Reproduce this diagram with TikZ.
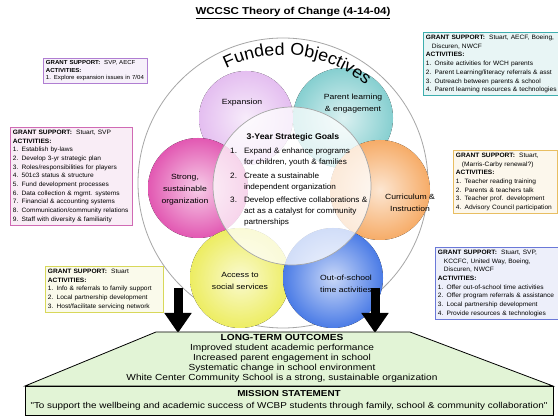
\documentclass[tikz,border=0pt]{standalone}
\usepackage{fontspec}
\setmainfont[FakeStretch=1.05]{Liberation Sans}
\newfontfamily\widefont[FakeStretch=1.15]{Liberation Sans}
\usetikzlibrary{arrows.meta,decorations.text}
\definecolor{expcol}{HTML}{E4BEF0}
\definecolor{parcol}{HTML}{86CFD0}
\definecolor{strcol}{HTML}{E258B2}
\definecolor{curcol}{HTML}{F6AC68}
\definecolor{acccol}{HTML}{EDED62}
\definecolor{outcol}{HTML}{4A7BE6}
\definecolor{expline}{HTML}{B07ED2}
\definecolor{strline}{HTML}{D06AB4}
\definecolor{accline}{HTML}{D8D85A}
\definecolor{parline}{HTML}{3EAEAE}
\definecolor{curline}{HTML}{E8BE62}
\definecolor{outline}{HTML}{6A78D8}
\definecolor{goodgreen}{HTML}{E2F4D6}
\newcommand{\boxfont}{\fontsize{6.3}{8.7}\selectfont}
\newcommand{\gs}{\textbf{GRANT SUPPORT:}\ \ }
\newcommand{\act}{\textbf{ACTIVITIES:}}

\begin{document}
\begin{tikzpicture}[x=1pt,y=-1pt,
    grantbox/.style={draw=#1, line width=0.9pt, fill=#1!12, anchor=north west,
      align=left, inner sep=2.5pt, font=\boxfont},
    blob/.style={shading=radial, inner color=#1!30, outer color=#1},
    lbl/.style={align=center, font=\widefont\fontsize{7.5}{12}\selectfont},
    bigarrow/.style={line width=9pt, -{Triangle[width=26pt,length=20pt]}}]
  \useasboundingbox (0,0) rectangle (558,417);

  % title
  \node (title) at (293,13) {\widefont\fontsize{10}{12}\selectfont\bfseries\underline{WCCSC Theory of Change (4-14-04)}};

  % circles
  \draw[gray!70, line width=0.8pt, fill=white] (283,183) circle[radius=145];
  \fill[blob=expcol] (246,118) circle[radius=47];
  \fill[blob=parcol] (343,118) circle[radius=50];
  \fill[blob=strcol] (198,188) circle[radius=50];
  \fill[blob=curcol] (380,190) circle[radius=50];
  \fill[blob=acccol] (240,278) circle[radius=50];
  \fill[blob=outcol] (333,278) circle[radius=50];
  \draw[gray!70, line width=0.7pt, fill=white, fill opacity=0.75] (292,186) circle[radius=79];

  \path[decorate, decoration={text along path, text align=center,
      text={|\fontsize{17}{18}\selectfont|Funded Objectives}}]
    (283,183) ++(210:128) arc[start angle=210, end angle=344, radius=128];

  \node[lbl] (expl) at (242,103) {Expansion};
  \node[lbl] (parl) at (353,104) {Parent learning\\\& engagement};
  \node[lbl] (strl) at (185,190) {Strong,\\sustainable\\organization};
  \node[lbl] (curl) at (410,203) {Curriculum \&\\Instruction};
  \node[lbl] (accl) at (240,281) {Access to\\social services};
  \node[lbl] (outl) at (346,284) {Out-of-school\\time activities};

  % strategic goals
  \node (goals) at (293,137) {\fontsize{8.3}{10}\selectfont\bfseries 3-Year Strategic Goals};
  \node[anchor=north west, inner sep=0pt, font=\fontsize{7.8}{11}\selectfont] (goallist) at (230,146)
    {\begin{tabular}{@{}l@{\hspace{7pt}}l@{}}
      1. & Expand \& enhance programs\\
         & for children, youth \& families\\[2.5pt]
      2. & Create a sustainable\\
         & independent organization\\[2.5pt]
      3. & Develop effective collaborations \&\\
         & act as a catalyst for community\\
         & partnerships
    \end{tabular}};

  % grant boxes
  \node[grantbox=expline, font=\fontsize{5.8}{7.2}\selectfont, text width=99pt] (expbox) at (43,58)
    {\gs SVP, AECF\\ \act\\ 1. Explore expansion issues in 7/04};
  \node[grantbox=strline, text width=117pt] (strbox) at (10,127)
    {\gs Stuart, SVP\\ \act\\ 1. Establish by-laws\\ 2. Develop 3-yr strategic plan\\
     3. Roles/responsibilities for players\\ 4. 501c3 status \& structure\\
     5. Fund development processes\\ 6. Data collection \& mgmt. systems\\
     7. Financial \& accounting systems\\ 8. Communication/community relations\\
     9. Staff with diversity \& familiarity};
  \node[grantbox=accline, text width=113pt] (accbox) at (45,266)
    {\gs Stuart\\ \act\\ 1. Info \& referrals to family support\\
     2. Local partnership development\\ 3. Host/facilitate servicing network};
  \node[grantbox=parline, text width=160pt] (parbox) at (423,32)
    {\gs Stuart, AECF, Boeing,\\ \hspace*{6pt}Discuren, NWCF\\ \act\\
     1. Onsite activities for WCH parents\\ 2. Parent Learning/literacy referrals \& asst\\
     3. Outreach between parents \& school\\ 4. Parent learning resources \& technologies};
  \node[grantbox=curline, text width=99pt] (curbox) at (453,150)
    {\gs Stuart,\\ \hspace*{6pt}(Marris-Carby renewal?)\\ \act\\
     1. Teacher reading training\\ 2. Parents \& teachers talk\\
     3. Teacher prof. development\\ 4. Advisory Council participation};
  \node[grantbox=outline, text width=118pt] (outbox) at (435,247)
    {\gs Stuart, SVP,\\ \hspace*{6pt}KCCFC, United Way, Boeing,\\ \hspace*{6pt}Discuren, NWCF\\ \act\\
     1. Offer out-of-school time activities\\ 2. Offer program referrals \& assistance\\
     3. Local partnership development\\ 4. Provide resources \& technologies};

  % outcomes
  \coordinate (la) at (178,288);
  \coordinate (lb) at (178,333);
  \coordinate (ra) at (375,288);
  \coordinate (rb) at (375,333);
  \draw[bigarrow] (la) -- (lb);
  \draw[bigarrow] (ra) -- (rb);

  \draw[line width=0.8pt, fill=goodgreen] (156,332) -- (410,332) -- (553,386) -- (25,386) -- cycle;
  \draw[line width=0.8pt, fill=goodgreen] (25,386) rectangle (553,415);
  \node[align=center, font=\widefont\fontsize{8.8}{10}\selectfont] (outcomes) at (282,358)
    {\textbf{LONG-TERM OUTCOMES}\\ Improved student academic performance\\
     Increased parent engagement in school\\ Systematic change in school environment\\
     White Center Community School is a strong, sustainable organization};
  \node[align=center, font=\widefont\fontsize{8.6}{12}\selectfont] (mission) at (289,400)
    {\textbf{MISSION STATEMENT}\\
     "To support the wellbeing and academic success of WCBP students through family, school \& community collaboration"};
\end{tikzpicture}
\end{document}
